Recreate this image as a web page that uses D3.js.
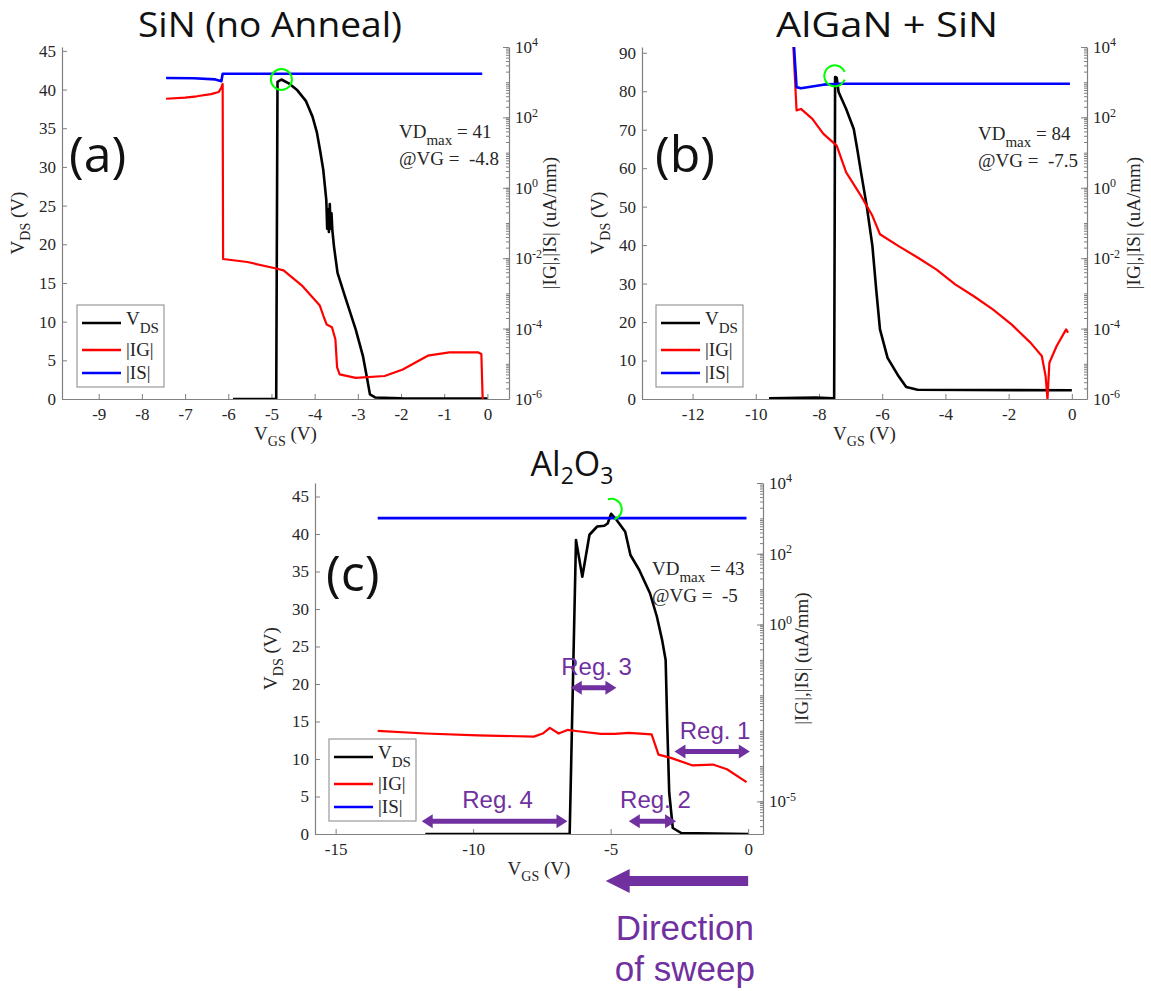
<!DOCTYPE html>
<html>
<head>
<meta charset="utf-8">
<script src="https://cdn.jsdelivr.net/npm/d3@7"></script>
<style>
  body { margin: 0; background: #fff; }
</style>
</head>
<body>
<svg id="fig" width="1151" height="991"></svg>
<script>
// ---------------- data ----------------
// [VGS (V), VDS (V)]
const vdsA = [[-5.89,0],[-4.89,0],[-4.86,41.0],[-4.77,41.3],[-4.6,40.8],[-4.4,39.9],[-4.2,38.5],[-4.05,36.5],
  [-3.95,34.5],[-3.87,32.0],[-3.80,29.6],[-3.73,25.7],[-3.71,22.0],[-3.69,24.5],[-3.67,21.6],[-3.65,25.2],
  [-3.63,22.0],[-3.61,24.0],[-3.59,21.8],[-3.55,19.6],[-3.47,16.3],[-3.30,13.3],[-3.05,9.0],[-2.88,5.5],
  [-2.78,2.5],[-2.72,0.6],[-2.6,0.2],[-2.0,0.08],[0,0.05]];
// [VGS (V), |IG| (uA/mm)]
const igA = [[-7.44,339],[-7.0,363],[-6.73,398],[-6.4,457],[-6.22,525],[-6.16,708],[-6.13,891],[-6.12,9.5e-3],
  [-5.56,7.8e-3],[-4.89,5.1e-3],[-4.72,4.5e-3],[-4.30,1.7e-3],[-3.88,4.5e-4],[-3.78,2.0e-4],[-3.72,1.3e-4],
  [-3.6,1.1e-4],[-3.52,5e-5],[-3.48,7.9e-6],[-3.42,5e-6],[-3.05,4e-6],[-2.38,4.5e-6],[-1.96,6.9e-6],
  [-1.38,1.7e-5],[-0.88,2.1e-5],[-0.21,2.1e-5],[-0.14,1.9e-5],[-0.11,1e-6]];
const isA = [[-7.44,1320],[-6.8,1290],[-6.3,1200],[-6.16,1070],[-6.13,1740],[-0.12,1740]];

const vdsB = [[-9.58,0.2],[-8.1,0.35],[-7.56,0.2],[-7.52,0.2],[-7.49,83.7],[-7.44,83.5],[-7.38,79.8],[-7.14,75.4],
  [-6.9,70.2],[-6.79,65],[-6.67,58.9],[-6.49,50.2],[-6.31,39.8],[-6.19,28.5],[-6.07,18.1],[-5.83,10.7],
  [-5.48,5.9],[-5.24,3.1],[-4.88,2.4],[0,2.26]];
const igB = [[-8.81,1e4],[-8.71,158],[-8.57,174],[-8.21,91],[-7.86,34],[-7.44,15.8],[-7.14,2.75],[-6.67,0.59],
  [-6.31,0.16],[-6.07,0.048],[-5.48,0.022],[-4.88,0.0105],[-4.29,0.0048],[-3.69,0.0018],[-3.1,8.3e-4],
  [-2.5,3.5e-4],[-1.9,1.3e-4],[-1.31,4e-5],[-0.95,1.66e-5],[-0.83,4.5e-6],[-0.77,1e-6],[-0.71,1.07e-5],
  [-0.48,3.2e-5],[-0.18,9.5e-5],[-0.12,7.6e-5]];
const isB = [[-8.79,1e4],[-8.71,724],[-8.57,676],[-7.86,851],[-7.38,902],[-0.06,902]];

const vdsC = [[-11.74,0],[-6.49,0],[-6.26,39.2],[-6.03,34.3],[-5.77,39.9],[-5.49,41.0],[-5.23,41.1],[-5.11,41.4],
  [-4.98,42.7],[-4.79,41.9],[-4.47,40.3],[-4.28,37.2],[-3.96,35.2],[-3.57,32.1],[-3.32,29.0],[-3.13,25.9],
  [-3.0,23.2],[-2.94,14.3],[-2.87,5.5],[-2.74,0.8],[-2.43,0.13],[0,0]];
const igC = [[-13.47,9.8e-4],[-11.74,8.3e-4],[-9.83,7.4e-4],[-7.79,6.8e-4],[-7.47,8.3e-4],[-7.21,1.2e-3],
  [-6.89,8.3e-4],[-6.57,1.05e-3],[-6.26,9.8e-4],[-5.36,8.1e-4],[-4.85,8.1e-4],[-4.34,8.7e-4],[-3.51,7.9e-4],
  [-3.26,2.1e-4],[-2.81,1.7e-4],[-2.04,1.05e-4],[-1.28,1.1e-4],[-0.77,8.1e-5],[-0.06,3.5e-5]];
const isC = [[-13.47,1020],[-0.06,1020]];

const titles = ['SiN (no Anneal)', 'AlGaN + SiN', 'Al2O3'];
const panelTags = ['(a)', '(b)', '(c)'];
// peak breakdown point: VD max and VG where it occurs
const vdMax = [41, 84, 43];
const vgAtMax = ['-4.8', '-7.5', '-5'];
const peakVgs = [-4.77, -7.5, -4.98];

const xTicksA = [-9,-8,-7,-6,-5,-4,-3,-2,-1,0];
const xTicksB = [-12,-10,-8,-6,-4,-2,0];
const xTicksC = [-15,-10,-5,0];
const yTicksA = [0,5,10,15,20,25,30,35,40,45];
const yTicksB = [0,10,20,30,40,50,60,70,80,90];
const yTicksC = [0,5,10,15,20,25,30,35,40,45];
const expTicksAB = [-6,-4,-2,0,2,4];
const expTicksC = [-5,0,2,4];

const legendNames = ['VDS', '|IG|', '|IS|'];
const seriesColors = ['#000000', '#ff0000', '#0000ff'];

// sweep regions in panel (c): [label, from VGS, to VGS, VDS level]
const regions = [['Reg. 1', -2.68, 0.06, 11.0], ['Reg. 2', -4.34, -2.62, 1.7],
                 ['Reg. 3', -6.45, -4.79, 19.5], ['Reg. 4', -11.87, -6.57, 1.7]];
const sweepFrom = 0, sweepTo = -5.18;

// ---------------- layout ----------------
const panels = [
  { key: 'a', left: 62, right: 509, top: 47, bottom: 399, xDom: [-9.85, 0.5], yDom: [0, 45.5], logDom: [1e-6, 1e4],
    xTicks: xTicksA, yTicks: yTicksA, exps: expTicksAB, vds: vdsA, ig: igA, is: isA,
    titleX: 270, titleY: 37, titleW: 264, tagX: 69, tagY: 172, noteX: 399, noteY: 138, legX: 77, legY: 305,
    yLabX: 24, yRLabX: 556, arc: [0, 2 * Math.PI] },
  { key: 'b', left: 642, right: 1087, top: 47, bottom: 399, xDom: [-13.6, 0.48], yDom: [0, 91.5], logDom: [1e-6, 1e4],
    xTicks: xTicksB, yTicks: yTicksB, exps: expTicksAB, vds: vdsB, ig: igB, is: isB,
    titleX: 887, titleY: 37, titleW: 222, tagX: 655, tagY: 172, noteX: 978, noteY: 140, legX: 656, legY: 305,
    yLabX: 604, yRLabX: 1140, arc: [0.62 * Math.PI, 2.38 * Math.PI] },
  { key: 'c', left: 315, right: 763, top: 483, bottom: 834, xDom: [-15.75, 0.54], yDom: [0, 46.8], logDom: [1.2e-6, 1e4],
    xTicks: xTicksC, yTicks: yTicksC, exps: expTicksC, vds: vdsC, ig: igC, is: isC,
    titleX: 572, titleY: 476, titleW: 0, tagX: 326, tagY: 591, noteX: 652, noteY: 575, legX: 329, legY: 739,
    yLabX: 277, yRLabX: 808, arc: [-0.1 * Math.PI, 0.9 * Math.PI] }
];

const svg = d3.select('#fig');
const serif = '"Liberation Serif", "DejaVu Serif", serif';
const sans = '"Open Sans", "Noto Sans", sans-serif';
const arial = '"Liberation Sans", Arial, sans-serif';
const axisGray = '#808080';
const textDark = '#262626';
const purple = '#7030a0';

function styleAxis(g) {
  g.select('.domain').attr('stroke', axisGray).attr('stroke-width', 1.2);
  g.selectAll('.tick line').attr('stroke', axisGray);
  g.selectAll('.tick text').attr('fill', textDark).style('font', `17px ${serif}`);
}

panels.forEach((p, i) => {
  const x = d3.scaleLinear().domain(p.xDom).range([p.left, p.right]);
  const yL = d3.scaleLinear().domain(p.yDom).range([p.bottom, p.top]);
  const yR = d3.scaleLog().domain(p.logDom).range([p.bottom, p.top]);
  const g = svg.append('g').attr('class', 'panel-' + p.key);

  svg.append('clipPath').attr('id', 'clip-' + p.key)
    .append('rect')
    .attr('x', p.left).attr('y', p.top)
    .attr('width', p.right - p.left).attr('height', p.bottom - p.top);

  // axes
  g.append('g')
    .attr('transform', `translate(0,${p.bottom})`)
    .call(d3.axisBottom(x).tickValues(p.xTicks).tickSize(-5).tickSizeOuter(0).tickPadding(9).tickFormat((d) => String(d)))
    .call(styleAxis);

  g.append('g')
    .attr('transform', `translate(${p.left},0)`)
    .call(d3.axisLeft(yL).tickValues(p.yTicks).tickSize(-5).tickSizeOuter(0).tickPadding(6).tickFormat((d) => String(d)))
    .call(styleAxis);

  // log axis: minor ticks first, then labelled decades
  const lo = Math.floor(Math.log10(p.logDom[0])), hi = Math.ceil(Math.log10(p.logDom[1]));
  const minor = [];
  for (let e = lo; e < hi; e++) for (let m = 1; m < 10; m++) {
    const v = m * Math.pow(10, e);
    if (v >= p.logDom[0] && v <= p.logDom[1]) minor.push(v);
  }
  minor.push(p.logDom[1]);
  g.append('g')
    .attr('transform', `translate(${p.right},0)`)
    .call(d3.axisRight(yR).tickValues(minor).tickSize(-3).tickSizeOuter(0).tickFormat(''))
    .call(styleAxis);

  const rAxis = g.append('g')
    .attr('transform', `translate(${p.right},0)`)
    .call(d3.axisRight(yR).tickValues(p.exps.map((e) => Math.pow(10, e))).tickSize(-6).tickSizeOuter(0).tickPadding(6));
  rAxis.call(styleAxis);
  rAxis.select('.domain').remove();
  rAxis.selectAll('.tick text').each(function (d) {
    const t = d3.select(this).text(null);
    t.append('tspan').text('10');
    t.append('tspan').attr('dy', '-0.55em').style('font-size', '12px').text(Math.round(Math.log10(d)));
  });

  // axis labels
  const xl = g.append('text')
    .attr('x', (p.left + p.right) / 2).attr('y', p.bottom + 41)
    .attr('text-anchor', 'middle').attr('fill', textDark).style('font', `19px ${serif}`);
  xl.append('tspan').text('V');
  xl.append('tspan').attr('dy', 6).style('font-size', '14px').text('GS');
  xl.append('tspan').attr('dy', -6).text(' (V)');

  const yl = g.append('text')
    .attr('transform', `translate(${p.yLabX},${(p.top + p.bottom) / 2}) rotate(-90)`)
    .attr('text-anchor', 'middle').attr('fill', textDark).style('font', `19px ${serif}`);
  yl.append('tspan').text('V');
  yl.append('tspan').attr('dy', 6).style('font-size', '14px').text('DS');
  yl.append('tspan').attr('dy', -6).text(' (V)');

  g.append('text')
    .attr('transform', `translate(${p.yRLabX},${(p.top + p.bottom) / 2}) rotate(-90)`)
    .attr('text-anchor', 'middle').attr('fill', textDark).style('font', `19px ${serif}`)
    .text('|IG|,|IS| (uA/mm)');

  // curves
  const lineL = d3.line().x((d) => x(d[0])).y((d) => yL(d[1]));
  const lineR = d3.line().x((d) => x(d[0])).y((d) => yR(d[1]));
  const plot = g.append('g').attr('clip-path', `url(#clip-${p.key})`);
  plot.append('path').datum(p.vds).attr('d', lineL).attr('fill', 'none')
    .attr('stroke', seriesColors[0]).attr('stroke-width', 2.6).attr('stroke-linejoin', 'round');
  plot.append('path').datum(p.ig).attr('d', lineR).attr('fill', 'none')
    .attr('stroke', seriesColors[1]).attr('stroke-width', 2.2).attr('stroke-linejoin', 'round');
  plot.append('path').datum(p.is).attr('d', lineR).attr('fill', 'none')
    .attr('stroke', seriesColors[2]).attr('stroke-width', 2.6).attr('stroke-linejoin', 'round');

  // breakdown marker
  plot.append('path')
    .attr('transform', `translate(${x(peakVgs[i])},${yL(vdMax[i] + 0.3 * (i !== 1))})`)
    .attr('d', d3.arc()({ innerRadius: 9.5, outerRadius: 11.5, startAngle: p.arc[0], endAngle: p.arc[1] }))
    .attr('fill', '#00ff00');

  // title
  const tt = g.append('text')
    .attr('x', p.titleX).attr('y', p.titleY)
    .attr('text-anchor', 'middle').attr('fill', '#111').style('font', `34px ${sans}`);
  if (p.key === 'c') {
    tt.append('tspan').text('Al');
    tt.append('tspan').attr('dy', 8).style('font-size', '23px').text('2');
    tt.append('tspan').attr('dy', -8).text('O');
    tt.append('tspan').attr('dy', 8).style('font-size', '23px').text('3');
  } else {
    tt.text(titles[i]).attr('textLength', p.titleW).attr('lengthAdjust', 'spacingAndGlyphs');
  }

  g.append('text')
    .attr('x', p.tagX).attr('y', p.tagY)
    .attr('fill', '#111').style('font', `50px ${sans}`)
    .text(panelTags[i]);

  // VDmax note
  const n1 = g.append('text').attr('x', p.noteX).attr('y', p.noteY)
    .attr('fill', textDark).style('font', `19px ${serif}`).style('white-space', 'pre');
  n1.append('tspan').text('VD');
  n1.append('tspan').attr('dy', 7).style('font-size', '15px').text('max');
  n1.append('tspan').attr('dy', -7).text(' = ' + vdMax[i]);
  g.append('text').attr('x', p.noteX).attr('y', p.noteY + 27)
    .attr('fill', textDark).style('font', `19px ${serif}`).style('white-space', 'pre')
    .text('@VG =  ' + vgAtMax[i]);

  // legend
  const lg = g.append('g').attr('transform', `translate(${p.legX},${p.legY})`);
  lg.append('rect').attr('width', 87).attr('height', 82)
    .attr('fill', '#fff').attr('stroke', '#999').attr('stroke-width', 1.2);
  const rows = [18, 45, 68];
  legendNames.forEach((name, k) => {
    lg.append('line').attr('x1', 5).attr('x2', 44).attr('y1', rows[k]).attr('y2', rows[k])
      .attr('stroke', seriesColors[k]).attr('stroke-width', 2.6);
    const lt = lg.append('text').attr('x', 49).attr('y', rows[k] + 6)
      .attr('fill', textDark).style('font', `19px ${serif}`);
    if (k === 0) {
      lt.attr('y', rows[k] + 2);
      lt.append('tspan').text('V');
      lt.append('tspan').attr('dy', 8).style('font-size', '15px').text('DS');
    } else {
      lt.text(name);
    }
  });

  // sweep annotations on panel (c)
  if (p.key === 'c') {
    const ann = g.append('g').attr('fill', purple);
    regions.forEach(([label, from, to, level]) => {
      const x0 = x(from), x1 = x(to), yy = yL(level);
      const hl = 11, hw = 7, sw = 2.5;
      ann.append('path').attr('d',
        `M${x0},${yy} L${x0 + hl},${yy - hw} L${x0 + hl},${yy - sw} L${x1 - hl},${yy - sw} L${x1 - hl},${yy - hw}` +
        ` L${x1},${yy} L${x1 - hl},${yy + hw} L${x1 - hl},${yy + sw} L${x0 + hl},${yy + sw} L${x0 + hl},${yy + hw} Z`);
      ann.append('text').attr('x', (x0 + x1) / 2 + 3).attr('y', yy - 13)
        .attr('text-anchor', 'middle').style('font', `24px ${arial}`).text(label);
    });

    const ya = p.bottom + 47;
    const xs = x(sweepFrom), xt = x(sweepTo);
    ann.append('path').attr('d',
      `M${xs},${ya - 5} L${xt + 24},${ya - 5} L${xt + 24},${ya - 12} L${xt},${ya} L${xt + 24},${ya + 12} L${xt + 24},${ya + 5} L${xs},${ya + 5} Z`);
    const cx = (xs + xt) / 2 + 8;
    ann.append('text').attr('x', cx).attr('y', ya + 59).attr('text-anchor', 'middle')
      .style('font', `35px ${arial}`).text('Direction');
    ann.append('text').attr('x', cx).attr('y', ya + 100).attr('text-anchor', 'middle')
      .style('font', `35px ${arial}`).text('of sweep');
  }
});
</script>
</body>
</html>
